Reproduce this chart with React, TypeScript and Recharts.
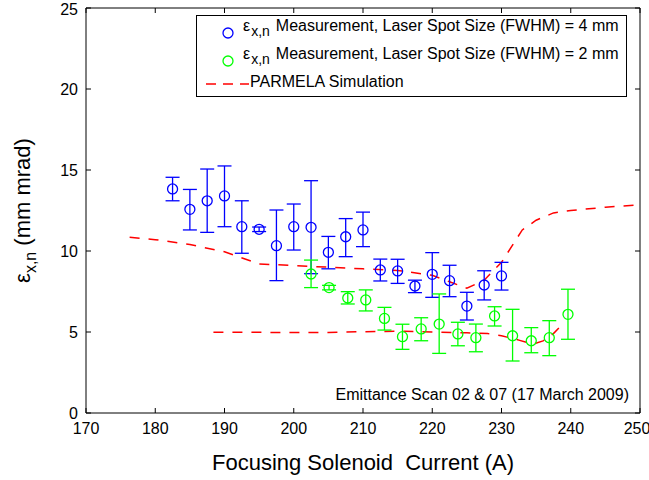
import {
  ComposedChart,
  Scatter,
  Line,
  XAxis,
  YAxis,
  ErrorBar,
} from "recharts";

const xTicks = [170, 180, 190, 200, 210, 220, 230, 240, 250];
const yTicks = [0, 5, 10, 15, 20, 25];

// laser spot 4 mm
const blueX = [182.5, 185, 187.5, 190, 192.5, 195, 197.5, 200, 202.5, 205, 207.5, 210, 212.5, 215, 217.5, 220, 222.5, 225, 227.5, 230];
const blueY = [13.83, 12.57, 13.1, 13.4, 11.5, 11.34, 10.33, 11.5, 11.46, 9.92, 10.88, 11.3, 8.83, 8.77, 7.84, 8.56, 8.17, 6.6, 7.9, 8.46];
const blueLo = [13.1, 11.3, 11.15, 11.5, 9.86, 11.2, 8.17, 10.06, 8.6, 8.9, 9.65, 10.27, 8.15, 8.0, 7.43, 7.14, 7.18, 5.74, 6.98, 7.59];
const blueHi = [14.55, 13.8, 15.06, 15.25, 13.1, 11.48, 12.53, 12.9, 14.34, 10.9, 12.0, 12.4, 9.5, 9.49, 8.2, 9.9, 9.12, 7.45, 8.78, 9.3];

// laser spot 2 mm
const greenX = [202.5, 205.1, 207.8, 210.4, 213.1, 215.7, 218.4, 221.0, 223.7, 226.3, 229.0, 231.6, 234.3, 236.9, 239.6];
const greenY = [8.58, 7.74, 7.1, 6.98, 5.84, 4.71, 5.19, 5.49, 4.88, 4.65, 5.99, 4.77, 4.46, 4.65, 6.09];
const greenLo = [7.74, 7.6, 6.73, 6.3, 5.12, 3.93, 4.46, 3.68, 4.15, 3.78, 5.37, 3.21, 3.72, 3.54, 4.55];
const greenHi = [9.44, 7.88, 7.49, 7.6, 6.52, 5.48, 5.88, 7.35, 5.6, 5.49, 6.56, 6.4, 5.27, 5.7, 7.64];

// PARMELA
const simUpX = [176.3, 180, 185, 190, 195, 200, 205, 210, 215, 220, 222.5, 225, 227.5, 230, 231.5, 233, 235, 237.5, 240, 245, 250];
const simUpY = [10.85, 10.7, 10.4, 9.95, 9.2, 9.1, 9.0, 8.9, 8.8, 8.5, 8.1, 7.7, 8.2, 9.3, 10.3, 11.3, 11.9, 12.35, 12.5, 12.7, 12.85];
const simLoX = [188.4, 195, 200, 205, 210, 215, 220, 225, 228, 230, 232.5, 234.5, 236, 237.5, 238.5];
const simLoY = [4.98, 4.98, 4.97, 4.97, 5.02, 5.05, 5.0, 4.95, 4.9, 4.77, 4.5, 4.25, 4.45, 4.9, 5.35];

const font = '"Liberation Sans", Arial, Helvetica, sans-serif';
const BLUE = "#0000ff";
const GREEN = "#00ff00";
const RED = "#ff0000";

const pts = (xs: number[], ys: number[], lo: number[], hi: number[]) =>
  xs.map((x, i) => ({ x, y: ys[i], err: [ys[i] - lo[i], hi[i] - ys[i]] }));
const line = (xs: number[], ys: number[]) => xs.map((x, i) => ({ x, y: ys[i] }));

const blueData = pts(blueX, blueY, blueLo, blueHi);
const greenData = pts(greenX, greenY, greenLo, greenHi);
const simUp = line(simUpX, simUpY);
const simLo = line(simLoX, simLoY);

const ring = (color: string) => (p: any) =>
  <circle cx={p.cx} cy={p.cy} r={5} fill="none" stroke={color} strokeWidth={1.3} />;

const YLabel = (p: any) => {
  const vb = p.viewBox || { x: 0, y: 0, height: 0 };
  const cx = vb.x + 30;
  const cy = vb.y + vb.height / 2;
  return (
    <text
      x={cx}
      y={cy}
      transform={`rotate(-90, ${cx}, ${cy})`}
      textAnchor="middle"
      fontFamily={font}
      fontSize={22}
      fill="#000"
    >
      <tspan>ε</tspan>
      <tspan fontSize={16} dy={6}>x,n</tspan>
      <tspan dy={-6}> (mm mrad)</tspan>
    </text>
  );
};

const Eps = () => (
  <span>
    ε<span style={{ fontSize: 14, position: "relative", top: 5, marginLeft: 1, marginRight: 6 }}>x,n</span>
  </span>
);

export default function App() {
  const noTick = () => <g />;
  return (
    <div style={{ position: "absolute", left: 0, top: 0, width: 649, height: 480, background: "#fff", fontFamily: font }}>
      <ComposedChart
        width={649}
        height={480}
        margin={{ top: 7, right: 8, bottom: 0, left: 0 }}
      >
        <XAxis
          xAxisId={0}
          dataKey="x"
          type="number"
          domain={[170, 250]}
          ticks={xTicks}
          allowDataOverflow
          height={67}
          tickSize={-5}
          tickMargin={15}
          stroke="#000"
          tick={{ fill: "#000", fontSize: 16, fontFamily: font }}
          label={{
            value: "Focusing Solenoid\u00a0\u00a0Current (A)",
            position: "insideBottom",
            offset: 10,
            fill: "#000",
            fontSize: 22,
            fontFamily: font,
          }}
        />
        <XAxis
          xAxisId="top"
          orientation="top"
          dataKey="x"
          type="number"
          domain={[170, 250]}
          ticks={xTicks}
          allowDataOverflow
          height={1}
          tickSize={-5}
          stroke="#000"
          tick={noTick}
        />
        <YAxis
          yAxisId={0}
          dataKey="y"
          type="number"
          domain={[0, 25]}
          ticks={yTicks}
          allowDataOverflow
          width={86}
          tickSize={-5}
          tickMargin={13}
          stroke="#000"
          tick={{ fill: "#000", fontSize: 16, fontFamily: font }}
          label={<YLabel />}
        />
        <YAxis
          yAxisId="right"
          orientation="right"
          dataKey="y"
          type="number"
          domain={[0, 25]}
          ticks={yTicks}
          allowDataOverflow
          width={1}
          tickSize={-5}
          stroke="#000"
          tick={noTick}
        />
        <Line
          data={simUp}
          dataKey="y"
          type="linear"
          stroke={RED}
          strokeWidth={1.5}
          strokeDasharray="10 9"
          dot={false}
          isAnimationActive={false}
        />
        {/* same scales, bound to the top / right frame axes */}
        <Line
          data={simLo}
          dataKey="y"
          xAxisId="top"
          yAxisId="right"
          type="linear"
          stroke={RED}
          strokeWidth={1.5}
          strokeDasharray="10 9"
          dot={false}
          isAnimationActive={false}
        />
        <Scatter data={blueData} dataKey="y" fill={BLUE} shape={ring(BLUE)} isAnimationActive={false}>
          <ErrorBar dataKey="err" direction="y" width={7} stroke={BLUE} strokeWidth={1.3} />
        </Scatter>
        <Scatter data={greenData} dataKey="y" fill={GREEN} shape={ring(GREEN)} isAnimationActive={false}>
          <ErrorBar dataKey="err" direction="y" width={7} stroke={GREEN} strokeWidth={1.3} />
        </Scatter>
      </ComposedChart>

      {/* legend */}
      <div
        style={{
          position: "absolute",
          left: 196,
          top: 15,
          width: 429,
          height: 80,
          border: "1.3px solid #000",
          background: "#fff",
          fontSize: 16,
          color: "#000",
        }}
      >
        <svg width={60} height={80} style={{ position: "absolute", left: 0, top: 0 }}>
          <circle cx={31} cy={17} r={5} fill="none" stroke={BLUE} strokeWidth={1.3} />
          <circle cx={31} cy={45} r={5} fill="none" stroke={GREEN} strokeWidth={1.3} />
          <line x1={9} y1={68} x2={52} y2={68} stroke={RED} strokeWidth={1.5} strokeDasharray="10 7" />
        </svg>
        <div style={{ position: "absolute", left: 46, top: 1, whiteSpace: "nowrap" }}>
          <Eps />Measurement, Laser Spot Size (FWHM) = 4 mm
        </div>
        <div style={{ position: "absolute", left: 46, top: 29, whiteSpace: "nowrap" }}>
          <Eps />Measurement, Laser Spot Size (FWHM) = 2 mm
        </div>
        <div style={{ position: "absolute", left: 53, top: 57, whiteSpace: "nowrap" }}>
          PARMELA Simulation
        </div>
      </div>

      <div
        style={{
          position: "absolute",
          right: 20,
          top: 386,
          fontSize: 16,
          color: "#000",
          whiteSpace: "nowrap",
        }}
      >
        Emittance Scan 02 &amp; 07 (17 March 2009)
      </div>
    </div>
  );
}
